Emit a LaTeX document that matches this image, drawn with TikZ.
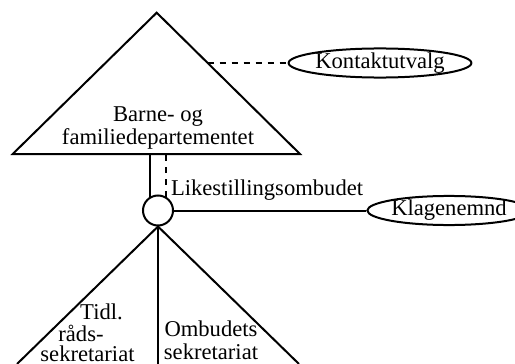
\documentclass[tikz,border=0pt]{standalone}
\usepackage{fontspec}
\setmainfont{Liberation Serif}
\usetikzlibrary{shapes.geometric}

\tikzset{
	unit/.style={ellipse, draw, inner sep=0pt, minimum height=14.5pt},
	ombud/.style={circle, draw, inner sep=0pt, minimum size=15pt},
	lbl/.style={inner sep=0pt, align=center},
}

\begin{document}
\begin{tikzpicture}[x=0.5pt, y=-0.5pt, line width=1pt, every node/.style={font=\fontsize{11.3}{11.5}\selectfont}]
	\useasboundingbox (0,0) rectangle (515,364);
	\coordinate (apex) at (156.7,12.7);
	\coordinate (bl) at (12.7,154);
	\coordinate (br) at (300,154);
	\draw (apex) -- (br) -- (bl) -- cycle;
	\node[lbl] (bfd) at (158,128) {Barne- og\\familiedepartementet};
	\node[unit, minimum width=90pt] (kontakt) at (380,63) {Kontaktutvalg};
	\coordinate (kedge) at (207.7,63);
	\draw[dashed] (kedge) -- (kontakt.west);
	\node[ombud] (lo) at (158,210.5) {};
	\draw (lo.119) -- (lo.119 |- bl);
	\draw[dashed] (lo.61) -- (lo.61 |- br);
	\node[lbl, anchor=west] (likest) at (170,190) {Likestillingsombudet};
	\node[unit, minimum width=64pt] (klage) at (449,210.5) {Klagenemnd};
	\draw (lo.east) -- (klage.west);
	\coordinate (tl) at (17,364);
	\coordinate (tm) at (158,364);
	\coordinate (tr) at (299,364);
	\draw (tl) -- (lo.south) -- (tr);
	\draw (lo.south) -- (tm);
	\node[lbl] (tidl) at (101.5,312) {Tidl.};
	\node[lbl] (raad) at (81,333) {råds-};
	\node[lbl] (sekl) at (87.5,354) {sekretariat};
	\node[lbl] (ombsek) at (211,340) {Ombudets\\sekretariat};
\end{tikzpicture}
\end{document}
